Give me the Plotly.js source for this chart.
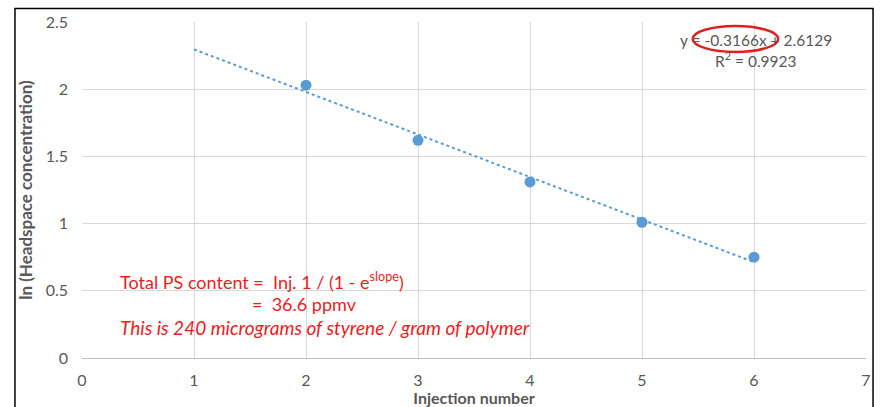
<!DOCTYPE html>
<html><head><meta charset="utf-8">
<script src="https://cdn.plot.ly/plotly-3.0.1.min.js"></script>
<style>html,body{margin:0;padding:0;background:#fff;}#chart{width:880px;height:407px;}</style>
</head><body><div id="chart"></div>
<script>
const injection = [2, 3, 4, 5, 6];
const lnConc = [2.03, 1.62, 1.31, 1.01, 0.75];
const trendX = [1, 6];
const trendY = [2.2963, 0.7133];
const xTicks = [0, 1, 2, 3, 4, 5, 6, 7];
const yTicks = [0, 0.5, 1, 1.5, 2, 2.5];
const yTickText = ['0', '0.5', '1', '1.5', '2', '2.5'];

const gray = '#595959';
const blue = '#5b9bd5';
const red = '#ee1c1c';
const font = 'Lato, "Open Sans", sans-serif';

const traces = [
  {x: trendX, y: trendY, mode: 'lines', line: {color: blue, width: 2, dash: 'dot'}, hoverinfo: 'skip'},
  {x: injection, y: lnConc, mode: 'markers', marker: {color: blue, size: 11}}
];

const layout = {
  width: 880, height: 407,
  margin: {l: 82, r: 14, t: 22, b: 49},
  showlegend: false,
  paper_bgcolor: '#fff', plot_bgcolor: '#fff',
  font: {family: font, color: gray, size: 16},
  xaxis: {
    range: [0, 7], tickvals: xTicks, ticktext: xTicks.map(String),
    showgrid: true, gridcolor: '#d9d9d9', gridwidth: 1,
    zeroline: false, showline: true, linecolor: '#bfbfbf', linewidth: 1,
    ticks: '', tickfont: {size: 16, color: gray}, ticklabelstandoff: 8,
    title: {text: '<b>Injection number</b>', font: {size: 16, color: gray}, standoff: 6}
  },
  yaxis: {
    range: [0, 2.5], tickvals: yTicks, ticktext: yTickText,
    showgrid: true, gridcolor: '#d9d9d9', gridwidth: 1,
    zeroline: false, showline: false,
    ticks: '', tickfont: {size: 16, color: gray}, ticklabelstandoff: 13,
    title: {text: '<b>ln (Headspace concentration)</b>', font: {size: 17, color: gray}, standoff: 8}
  },
  shapes: [
    {type: 'rect', xref: 'paper', yref: 'paper', x0: -0.0855, x1: 1.009, y0: -0.2, y1: 1.04,
     line: {color: '#000', width: 1.5}, fillcolor: 'rgba(0,0,0,0)'},
    {type: 'circle', xref: 'paper', yref: 'paper', x0: 0.779, x1: 0.888, y0: 0.911, y1: 0.988,
     line: {color: '#e0201e', width: 2.5}, fillcolor: 'rgba(0,0,0,0)'}
  ],
  annotations: [
    {xref: 'paper', yref: 'paper', x: 0.860, y: 0.947, xanchor: 'center', yanchor: 'middle',
     text: 'y = -0.3166x + 2.6129', showarrow: false, font: {size: 15.5, color: gray}},
    {xref: 'paper', yref: 'paper', x: 0.860, y: 0.887, xanchor: 'center', yanchor: 'middle',
     text: 'R<sup>2</sup> = 0.9923', showarrow: false, font: {size: 15.5, color: gray}},
    {xref: 'paper', yref: 'paper', x: 0.0459, y: 0.230, xanchor: 'left', yanchor: 'middle',
     text: 'Total PS content =  Inj. 1 / (1 - e<sup>slope</sup>)', showarrow: false, font: {size: 18, color: red}},
    {xref: 'paper', yref: 'paper', x: 0.2143, y: 0.160, xanchor: 'left', yanchor: 'middle',
     text: '=  36.6 ppmv', showarrow: false, font: {size: 18, color: red}},
    {xref: 'paper', yref: 'paper', x: 0.0459, y: 0.092, xanchor: 'left', yanchor: 'middle',
     text: '<i>This is 240 micrograms of styrene / gram of polymer</i>', showarrow: false, font: {size: 19, color: red}}
  ]
};

Plotly.newPlot('chart', traces, layout, {displayModeBar: false, staticPlot: true});
</script>
</body></html>
